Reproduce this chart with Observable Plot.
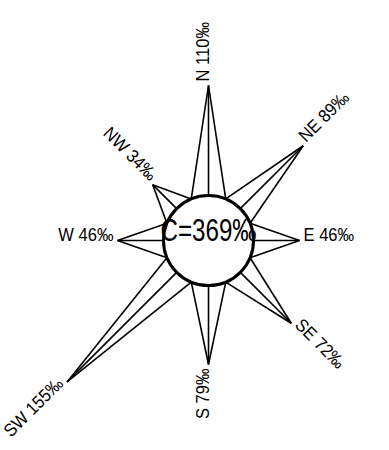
<!DOCTYPE html>
<html>
<head>
<meta charset="utf-8">
<script src="https://cdn.jsdelivr.net/npm/d3@7"></script>
<script src="https://cdn.jsdelivr.net/npm/@observablehq/plot@0.6"></script>
<style>
  html, body { margin: 0; padding: 0; background: #fff; }
  svg { display: block; }
</style>
</head>
<body>
<div id="chart"></div>
<script>
// Data (per mille frequencies)
const directions = ["N", "NE", "E", "SE", "S", "SW", "W", "NW"];
const angles = [0, 45, 90, 135, 180, 225, 270, 315];
const frequencies = [110, 89, 46, 72, 79, 155, 46, 34];
const calm = 369;

const R = 45;      // calm circle radius (px = data units)
const GAP = 4;     // label gap beyond tip
const HALF = 22.5; // half-width of each spike base, degrees

const rad = d => d * Math.PI / 180;
const rows = directions.map((d, i) => ({
  dir: d, angle: angles[i], value: frequencies[i]
}));

const segs = [];
for (const r of rows) {
  const L = R + r.value;
  const tx = L * Math.sin(rad(r.angle)), ty = L * Math.cos(rad(r.angle));
  for (const off of [-HALF, 0, HALF]) {
    const a = rad(r.angle + off);
    segs.push({x1: tx, y1: ty, x2: R * Math.sin(a), y2: R * Math.cos(a)});
  }
}

const labels = rows.map(r => {
  const L = R + r.value + GAP;
  const a = r.angle;
  const start = a <= 135;
  let rot;
  if (a === 0 || a === 180) rot = -90;
  else if (a === 90 || a === 270) rot = 0;
  else if (a === 45 || a === 225) rot = -45;
  else rot = 45;
  return {
    x: L * Math.sin(rad(a)), y: L * Math.cos(rad(a)),
    text: `${r.dir} ${r.value}‰`, rotate: rot, start
  };
});

const chart = Plot.plot({
  width: 389,
  height: 450,
  margin: 0,
  x: {domain: [-208, 181], axis: null},
  y: {domain: [-210, 240], axis: null},
  style: {fontFamily: "'Liberation Sans', Arial, sans-serif", background: "#fff"},
  marks: [
    Plot.link(segs, {x1: "x1", y1: "y1", x2: "x2", y2: "y2", stroke: "black", strokeWidth: 1.6}),
    Plot.dot([{x: 0, y: 0}], {x: "x", y: "y", r: R, fill: "white", stroke: "black", strokeWidth: 3}),
    Plot.text([{x: 0, y: 0, t: `C=${calm}‰`}], {x: "x", y: "y", text: "t", fontSize: 31, fill: "black", className: "center-label"}),
    Plot.text(labels.filter(d => d.start), {x: "x", y: "y", text: "text", rotate: "rotate", textAnchor: "start", fontSize: 18, fill: "black", className: "dir-label"}),
    Plot.text(labels.filter(d => !d.start), {x: "x", y: "y", text: "text", rotate: "rotate", textAnchor: "end", fontSize: 18, fill: "black", className: "dir-label"})
  ]
});

// condense the text horizontally like the reference's narrow type
function condense(sel, sx) {
  d3.select(chart).selectAll(sel).each(function() {
    const el = d3.select(this);
    let tr = el.attr("transform") || "";
    const x = el.attr("x"), y = el.attr("y");
    if (x != null || y != null) {
      tr = `translate(${+x || 0},${+y || 0}) ` + tr;
      el.attr("x", null).attr("y", null);
    }
    el.attr("transform", `${tr} scale(${sx},1)`);
  });
}
condense(".center-label text", 0.78);
condense(".dir-label text", 0.92);

document.getElementById("chart").appendChild(chart);
</script>
</body>
</html>
